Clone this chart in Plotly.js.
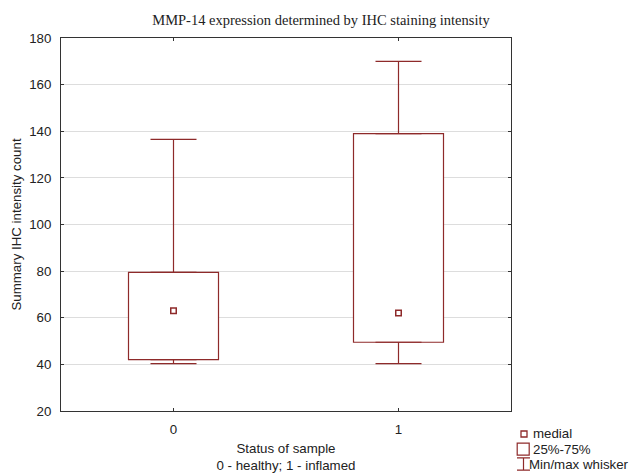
<!DOCTYPE html>
<html>
<head>
<meta charset="utf-8">
<script src="https://cdn.plot.ly/plotly-3.0.1.min.js"></script>
<style>html,body{margin:0;padding:0;background:#fff;}#chart{width:629px;height:473px;}</style>
</head>
<body>
<div id="chart"></div>
<script>
// Data
var categories = ['0', '1'];
var q1Values = [42, 49.5];
var q3Values = [79.5, 139];
var medianValues = [63, 62];
var minValues = [40.3, 40.3];
var maxValues = [136.5, 170];
var legendLabels = ['medial', '25%-75%', 'Min/max whisker'];

var RED = '#8e2a2a';
var LW = 1.2;
var FS = 13.3;

var boxTrace = {
  type: 'bar',
  x: categories,
  base: q1Values,
  y: q3Values.map(function (v, i) { return v - q1Values[i]; }),
  width: 0.4,
  marker: { color: '#ffffff', line: { color: RED, width: LW } },
  hoverinfo: 'skip',
  showlegend: false
};

var upperWhisker = {
  type: 'scatter', mode: 'markers',
  x: categories, y: q3Values,
  marker: { color: 'rgba(0,0,0,0)', size: 1 },
  error_y: {
    type: 'data', symmetric: false,
    array: maxValues.map(function (v, i) { return v - q3Values[i]; }),
    arrayminus: [0, 0],
    color: RED, thickness: LW, width: 23
  },
  hoverinfo: 'skip', showlegend: false
};

var lowerWhisker = {
  type: 'scatter', mode: 'markers',
  x: categories, y: q1Values,
  marker: { color: 'rgba(0,0,0,0)', size: 1 },
  error_y: {
    type: 'data', symmetric: false,
    array: [0, 0],
    arrayminus: q1Values.map(function (v, i) { return v - minValues[i]; }),
    color: RED, thickness: LW, width: 23
  },
  hoverinfo: 'skip', showlegend: false
};

var medianTrace = {
  type: 'scatter', mode: 'markers',
  x: categories, y: medianValues,
  marker: { symbol: 'square-open', size: 5.5, color: RED, line: { color: RED, width: 1.5 } },
  showlegend: false
};

// plot area in pixels: left 61, right 511, top 38, bottom 411
function px(X) { return (X - 61) / 450; }
function py(Y) { return (411 - Y) / 373; }

var shapes = [
  { type: 'rect', xref: 'paper', yref: 'paper', xsizemode: 'pixel', ysizemode: 'pixel',
    xanchor: px(524), yanchor: py(434), x0: -3, x1: 3, y0: -3, y1: 3,
    line: { color: RED, width: 1.3 }, fillcolor: 'rgba(0,0,0,0)' },
  { type: 'rect', xref: 'paper', yref: 'paper', xsizemode: 'pixel', ysizemode: 'pixel',
    xanchor: px(523.2), yanchor: py(449.2), x0: -6, x1: 6, y0: -6, y1: 6,
    line: { color: RED, width: 1.2 }, fillcolor: 'rgba(0,0,0,0)' },
  { type: 'path', xref: 'paper', yref: 'paper', xsizemode: 'pixel', ysizemode: 'pixel',
    xanchor: px(523.5), yanchor: py(464),
    path: 'M-6.5,6.2L6.5,6.2M0,6.2L0,-6.2M-6.5,-6.2L6.5,-6.2',
    line: { color: RED, width: 1.2 } }
];

var annotations = [
  { text: legendLabels[0], xref: 'paper', yref: 'paper', x: px(531), y: py(433.5), xanchor: 'left', yanchor: 'middle', showarrow: false, font: { size: FS } },
  { text: legendLabels[1], xref: 'paper', yref: 'paper', x: px(531), y: py(449), xanchor: 'left', yanchor: 'middle', showarrow: false, font: { size: FS } },
  { text: legendLabels[2], xref: 'paper', yref: 'paper', x: px(527), y: py(464), xanchor: 'left', yanchor: 'middle', showarrow: false, font: { size: FS } }
];

var layout = {
  width: 629, height: 473,
  margin: { l: 61, r: 118, t: 38, b: 62 },
  paper_bgcolor: '#ffffff', plot_bgcolor: '#ffffff',
  font: { family: 'Liberation Sans, Arial, sans-serif', size: FS, color: '#222222' },
  title: {
    text: 'MMP-14 expression determined by IHC staining intensity',
    font: { family: 'Liberation Serif, Times New Roman, serif', size: 14.5, color: '#222222' },
    x: 321 / 629, xanchor: 'center', y: 1 - 20 / 473, yanchor: 'middle'
  },
  xaxis: {
    type: 'category', range: [-0.5, 1.5],
    showgrid: false, zeroline: false,
    showline: true, linecolor: '#333333', linewidth: 1, mirror: 'ticks',
    ticks: 'inside', ticklen: 3, tickcolor: '#333333',
    ticklabelstandoff: 6,
    title: { text: 'Status of sample<br>0 - healthy; 1 - inflamed', standoff: 8, font: { size: FS } }
  },
  yaxis: {
    range: [20, 180], dtick: 20, tick0: 20,
    showgrid: true, gridcolor: '#dddddd', gridwidth: 1, zeroline: false,
    showline: true, linecolor: '#333333', linewidth: 1, mirror: 'ticks',
    ticks: 'inside', ticklen: 3, tickcolor: '#333333',
    ticklabelstandoff: 6,
    title: { text: 'Summary IHC intensity count', standoff: 4, font: { size: FS } }
  },
  bargap: 0,
  shapes: shapes,
  annotations: annotations,
  showlegend: false
};

Plotly.newPlot('chart', [boxTrace, upperWhisker, lowerWhisker, medianTrace], layout, { displayModeBar: false, staticPlot: true });
</script>
</body>
</html>
